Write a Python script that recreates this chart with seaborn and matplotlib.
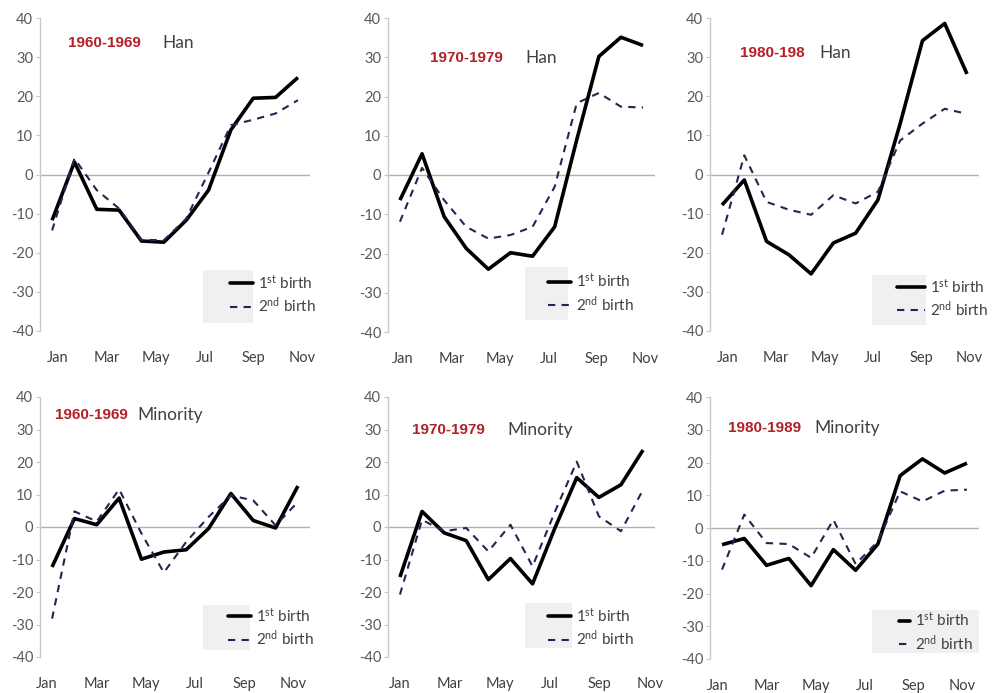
import numpy as np
import pandas as pd
import matplotlib
matplotlib.use("Agg")
import matplotlib.pyplot as plt
from matplotlib.patches import Rectangle
from matplotlib.lines import Line2D
import seaborn as sns

sns.set_style("white")
plt.rcParams['font.family'] = ['Lato', 'DejaVu Sans']
plt.rcParams['axes.unicode_minus'] = False
plt.rcParams['mathtext.fontset'] = 'custom'
plt.rcParams['mathtext.rm'] = 'Lato'
plt.rcParams['mathtext.it'] = 'Lato'

months = ["Jan", "Feb", "Mar", "Apr", "May", "Jun", "Jul", "Aug", "Sep", "Oct", "Nov", "Dec"]
tick_labels = ["Jan", "Mar", "May", "Jul", "Sep", "Nov"]
periods = ["1960-1969", "1970-1979", "1980-198", "1960-1969", "1970-1979", "1980-1989"]
groups = ["Han", "Han", "Han", "Minority", "Minority", "Minority"]

han_60_first = [-11.7, 3.2, -8.9, -9.1, -17.0, -17.3, -11.7, -4.0, 11.4, 19.5, 19.7, 24.8]
han_60_second = [-14.3, 4.1, -4.0, -8.7, -16.7, -16.8, -11.3, 0.5, 12.6, 14.0, 15.6, 19.0]
han_70_first = [-6.4, 5.4, -10.6, -18.7, -24.0, -19.8, -20.7, -13.2, 9.0, 30.2, 35.1, 33.0]
han_70_second = [-11.9, 1.8, -6.4, -13.2, -16.2, -15.3, -13.2, -3.0, 18.3, 20.9, 17.4, 17.2]
han_80_first = [-7.8, -1.4, -17.1, -20.5, -25.4, -17.5, -15.0, -6.5, 13.0, 34.2, 38.6, 25.7]
han_80_second = [-15.4, 4.9, -7.0, -9.0, -10.3, -5.3, -7.4, -4.4, 8.7, 13.0, 16.8, 15.5]
min_60_first = [-12.3, 2.6, 0.7, 8.9, -9.9, -7.7, -7.0, -0.5, 10.3, 2.0, -0.3, 12.6]
min_60_second = [-28.2, 4.8, 1.7, 11.6, -2.0, -14.0, -4.6, 3.1, 9.7, 8.2, 0.5, 7.7]
min_70_first = [-15.4, 4.8, -1.8, -4.2, -16.2, -9.7, -17.5, -0.5, 15.2, 9.1, 13.0, 23.7]
min_70_second = [-20.8, 2.2, -1.3, -0.3, -7.5, 0.7, -12.1, 4.5, 20.1, 3.3, -1.3, 11.5]
min_80_first = [-5.1, -3.2, -11.4, -9.3, -17.6, -6.6, -12.9, -4.9, 16.0, 21.1, 16.8, 19.8]
min_80_second = [-12.7, 4.1, -4.6, -4.9, -9.1, 2.5, -11.0, -4.1, 11.2, 8.1, 11.4, 11.7]

series = [
    (han_60_first, han_60_second), (han_70_first, han_70_second), (han_80_first, han_80_second),
    (min_60_first, min_60_second), (min_70_first, min_70_second), (min_80_first, min_80_second),
]
birth_labels = ["1$^{st}$ birth", "2$^{nd}$ birth"]

fig = plt.figure(figsize=(10, 6.93), dpi=100)

W, H = 1000, 693
# axes rectangles in pixels: left, top, right, bottom
rects = [
    (40, 18, 310, 331), (388, 18, 655, 332), (710, 18, 979, 331),
    (40, 397, 310, 657), (388, 397, 655, 657), (710, 397, 979, 659),
]
# month-label span (start, end) in month index units
tick_span = [(0.27, 11.2), (0.14, 11.1), (0.27, 11.1), (-0.22, 10.8), (0.0, 11.3), (-0.2, 10.8)]
title_pos = [
    (0.104, 0.92, 0.452), (0.157, 0.872, 0.513), (0.111, 0.888, 0.407),
    (0.056, 0.931, 0.359), (0.09, 0.873, 0.446), (0.067, 0.88, 0.389),
]
# legend grey box (x0, x1, y0, y1) axes fraction
leg_box = [
    (0.604, 0.789, 0.026, 0.195), (0.513, 0.674, 0.038, 0.207), (0.604, 0.804, 0.02, 0.18),
    (0.604, 0.778, 0.027, 0.2), (0.513, 0.69, 0.035, 0.208), (0.604, 1.0, 0.023, 0.187),
]
# legend anchor (handle left x, vertical middle y), handle length
leg_anchor = [
    (0.704, 0.117, 1.5), (0.60, 0.124, 1.5), (0.696, 0.105, 1.8),
    (0.696, 0.113, 1.5), (0.60, 0.113, 1.5), (0.704, 0.103, 0.7),
]

red = "#b22028"
grey_txt = "#595959"
navy = "#1f2850"

for i, (rect, (s1, s2)) in enumerate(zip(rects, series)):
    l, t, r, b = rect
    ax = fig.add_axes([l / W, 1 - b / H, (r - l) / W, (b - t) / H])
    x = np.arange(len(months))
    df = pd.DataFrame({
        "m": np.concatenate([x, x]),
        "v": s1 + s2,
        "birth": [birth_labels[0]] * 12 + [birth_labels[1]] * 12,
    })
    ax.axhline(0, color="#b0b0b0", lw=1, zorder=1)
    sns.lineplot(data=df, x="m", y="v", hue="birth", style="birth",
                 palette=["black", navy], dashes=[(1, 0), (3.5, 3)],
                 ax=ax, legend=False, zorder=3)
    lines = ax.get_lines()
    lines[1].set_linewidth(2.6)
    lines[2].set_linewidth(1.5)

    ax.set_xlim(-0.54, 11.54)
    ax.set_ylim(-40, 40)
    ax.set_yticks(np.arange(-40, 41, 10))
    ax.set_xticks(np.linspace(tick_span[i][0], tick_span[i][1], 6))
    ax.set_xticklabels(tick_labels)
    ax.set_xlabel("")
    ax.set_ylabel("")
    for sp in ["top", "right", "bottom"]:
        ax.spines[sp].set_visible(False)
    ax.spines["left"].set_color("#c8c8c8")
    ax.spines["left"].set_linewidth(1)
    ax.tick_params(axis="y", left=True, length=3, width=0.8, color="#c8c8c8",
                   labelsize=10.5, labelcolor=grey_txt, pad=2)
    ax.tick_params(axis="x", bottom=False, labelsize=10.5, labelcolor="#404040", pad=11)
    ax.set_facecolor("none")

    tx, ty, gx = title_pos[i]
    ax.text(tx, ty, periods[i], transform=ax.transAxes, color=red, fontsize=11,
            fontweight="bold", family=["Liberation Sans", "DejaVu Sans"],
            va="center", ha="left")
    ax.text(gx, ty, groups[i], transform=ax.transAxes, color="#404040", fontsize=12.5,
            va="center", ha="left")

    x0, x1, y0, y1 = leg_box[i]
    ax.add_patch(Rectangle((x0, y0), x1 - x0, y1 - y0, transform=ax.transAxes,
                           facecolor="#f0f0f0", edgecolor="none", zorder=0))
    h1 = Line2D([], [], color="black", lw=2.6)
    h2 = Line2D([], [], color=navy, lw=1.5, dashes=(3.5, 3))
    ax_, ay_, hl = leg_anchor[i]
    leg = ax.legend([h1, h2], birth_labels, loc="center left",
                    bbox_to_anchor=(ax_, ay_), frameon=False,
                    borderpad=0, borderaxespad=0,
                    handlelength=hl, handletextpad=0.35, labelspacing=0.25,
                    prop={"size": 11})
    for txt in leg.get_texts():
        txt.set_color("#404040")

fig.savefig("out.png", dpi=100, facecolor="white")
